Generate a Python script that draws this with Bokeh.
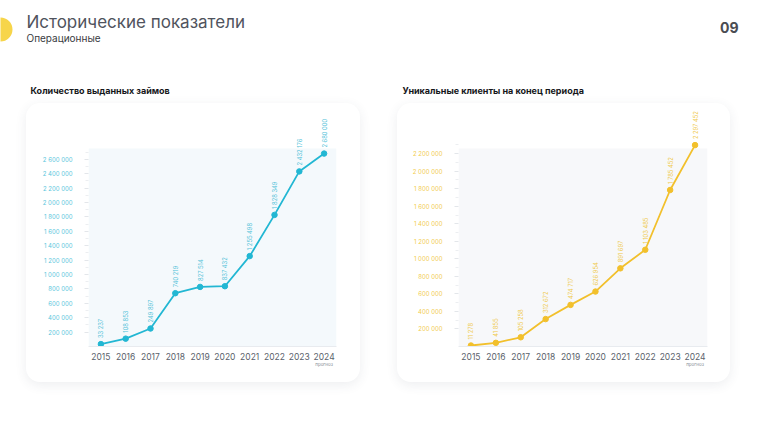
import math
from bokeh.plotting import figure
from bokeh.models import (ColumnDataSource, LabelSet, FixedTicker, Range1d, Spacer,
                          BoxAnnotation, LinearAxis)
from bokeh.layouts import column, row
from bokeh.core.properties import value
from bokeh.embed import file_html
from bokeh.resources import INLINE

# ---------------- data ----------------
years = [2015, 2016, 2017, 2018, 2019, 2020, 2021, 2022, 2023, 2024]
year_labels = ["2015", "2016", "2017", "2018", "2019", "2020", "2021", "2022", "2023", "2024"]
forecast_year = 2024
forecast_note = "прогноз"

loans_title = "Количество выданных займов"
loans = [33237, 108853, 249897, 740219, 827514, 837432, 1255498, 1828349, 2432176, 2680000]
loans_ticks = [200000, 400000, 600000, 800000, 1000000, 1200000, 1400000,
               1600000, 1800000, 2000000, 2200000, 2400000, 2600000]

clients_title = "Уникальные клиенты на конец периода"
clients = [11278, 41855, 105258, 312672, 474717, 626954, 891697, 1103485, 1785452, 2297452]
clients_ticks = [200000, 400000, 600000, 800000, 1000000, 1200000,
                 1400000, 1600000, 1800000, 2000000, 2200000]

page_title = "Исторические показатели"
page_subtitle = "Операционные"
page_number = "09"

FONT = "Inter"


def fmt(v):
    return f"{v:,}".replace(",", " ")


def make_chart(vals, ticks, y_end, panel_top, line_color, tick_color, label_color, bg,
               width, height, mb_left, mb_right, mb_top, mb_bottom):
    p = figure(width=width, height=height, output_backend="svg", toolbar_location=None,
               x_range=Range1d(2014.5, 2024.5), y_range=Range1d(0, y_end),
               min_border_left=mb_left, min_border_right=mb_right,
               min_border_top=mb_top, min_border_bottom=mb_bottom,
               styles={"border-radius": "14px",
                       "box-shadow": "0 3px 12px rgba(60,70,90,0.09)",
                       "background-color": "#ffffff"})
    p.border_fill_color = None
    p.outline_line_color = None
    p.background_fill_color = "#ffffff"
    p.grid.visible = False

    # light plotting panel
    p.add_layout(BoxAnnotation(top=panel_top, fill_color=bg, fill_alpha=1.0,
                               line_color=None, level="underlay"))

    # x axis
    xa = p.xaxis[0]
    xa.ticker = FixedTicker(ticks=years)
    xa.major_label_overrides = {y: l for y, l in zip(years, year_labels)}
    xa.axis_line_color = "#e8ebef"
    xa.major_tick_line_color = None
    xa.minor_tick_line_color = None
    xa.major_label_standoff = 0
    xa.major_label_text_font = FONT
    xa.major_label_text_font_size = "8.5px"
    xa.major_label_text_color = "#5a5f6b"

    # forecast note under the last year
    na = LinearAxis(ticker=FixedTicker(ticks=[forecast_year]),
                    major_label_overrides={forecast_year: forecast_note})
    na.axis_line_color = None
    na.major_tick_line_color = None
    na.minor_tick_line_color = None
    na.major_label_standoff = -7
    na.major_label_text_font = FONT
    na.major_label_text_font_size = "4.5px"
    na.major_label_text_color = "#8a8f98"
    p.add_layout(na, "below")

    # y axis
    ya = p.yaxis[0]
    ya.ticker = FixedTicker(ticks=ticks, minor_ticks=[t + 100000 for t in ticks])
    ya.major_label_overrides = {t: fmt(t) for t in ticks}
    ya.axis_line_color = None
    ya.major_tick_line_color = "#e3e6ea"
    ya.major_tick_out = 4
    ya.major_tick_in = 0
    ya.minor_tick_line_color = "#eceef1"
    ya.minor_tick_out = 3
    ya.minor_tick_in = 0
    ya.major_label_standoff = 12
    ya.major_label_text_font = FONT
    ya.major_label_text_font_size = "6px"
    ya.major_label_text_color = tick_color

    src = ColumnDataSource(dict(x=years, y=vals, t=[fmt(v) for v in vals]))
    p.line("x", "y", source=src, line_color=line_color, line_width=1.8)
    p.scatter("x", "y", source=src, size=5.5, fill_color=line_color, line_color=line_color)
    labels = LabelSet(x="x", y="y", text="t", source=src, angle=math.pi / 2,
                      text_align="left", text_baseline="middle", y_offset=6,
                      text_font=value(FONT), text_font_size="5.8px",
                      text_color=label_color)
    p.add_layout(labels)
    return p


# ---------------- header ----------------
hdr = figure(width=758, height=103, output_backend="svg", toolbar_location=None,
             x_range=Range1d(0, 758), y_range=Range1d(103, 0),
             min_border=0, min_border_left=0, min_border_right=0,
             min_border_top=0, min_border_bottom=0)
hdr.axis.visible = False
hdr.grid.visible = False
hdr.outline_line_color = None
hdr.border_fill_color = None
hdr.background_fill_color = None

hdr.circle(x=[0], y=[29], radius=12, fill_color="#f7d54a", line_color=None)
hdr.text(x=[26], y=[21], text=[page_title], text_font=value(FONT), text_font_size="17px",
         text_color="#50535d", text_baseline="middle")
hdr.text(x=[26], y=[37.5], text=[page_subtitle], text_font=value(FONT), text_font_size="10px",
         text_color="#3a3c42", text_baseline="middle")
hdr.text(x=[738], y=[27], text=[page_number], text_font=value(FONT), text_font_size="14px",
         text_font_style="bold", text_color="#4a4c52", text_align="right",
         text_baseline="middle")
hdr.text(x=[30], y=[90], text=[loans_title], text_font=value(FONT), text_font_size="9px",
         text_font_style="bold", text_color="#15161a", text_baseline="middle")
hdr.text(x=[402], y=[90], text=[clients_title], text_font=value(FONT), text_font_size="9px",
         text_font_style="bold", text_color="#15161a", text_baseline="middle")

# ---------------- charts ----------------
p1 = make_chart(loans, loans_ticks, 3306000, 2749000, "#22b7d3", "#5ac6dc", "#4fc1d8",
                "#f4f9fc", 334, 279, 62, 24, 5, 36)
p2 = make_chart(clients, clients_ticks, 2715000, 2260000, "#f2c02c", "#f2cc4e", "#efc848",
                "#f7f8fa", 333, 279, 61, 23, 5, 35)

layout = column(hdr, row(Spacer(width=26), p1, Spacer(width=37), p2))

open("out.html", "w").write(file_html(layout, INLINE))
